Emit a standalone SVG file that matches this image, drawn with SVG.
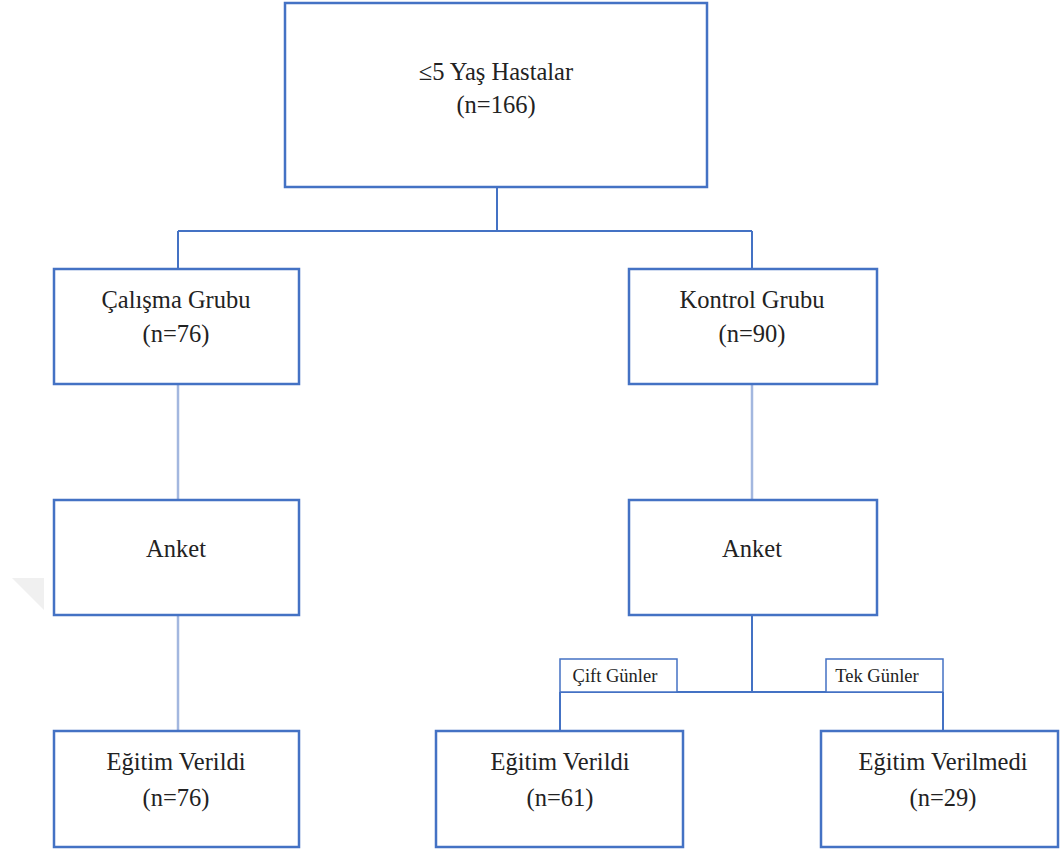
<svg xmlns="http://www.w3.org/2000/svg" width="1061" height="849" viewBox="0 0 1061 849">
<style>
.box{fill:#fff;stroke:#4472C4;stroke-width:2.5}
.lbl{fill:#fff;stroke:#4472C4;stroke-width:1.5}
.c{fill:none;stroke:#4472C4;stroke-width:2}
.cl{fill:none;stroke:#A3B7DF;stroke-width:2.5}
text{font-family:'Liberation Serif','Times New Roman',serif;font-size:24.5px;fill:#222;text-anchor:middle}
.s{font-size:18.5px}
</style>
<rect width="1061" height="849" fill="#fff"/>
<polygon points="12,578 44,578 44,610" fill="#f0f0f0"/>
<g id="connectors">
<path class="c" d="M497,187 V231 M178,231 H752 M178,231 V268 M752,231 V268"/>
<path class="cl" d="M178,384 V500 M752,384 V500 M178,615 V730"/>
<path class="c" d="M752,615 V692 M560,692 H943 M560,692 V730 M943,692 V730"/>
</g>
<g id="root"><rect class="box" x="285" y="3" width="422" height="184"/><text x="496" y="80">≤5 Yaş Hastalar</text><text x="496" y="113">(n=166)</text></g>
<g id="calisma"><rect class="box" x="54" y="269" width="245" height="115"/><text x="176" y="308">Çalışma Grubu</text><text x="176" y="342">(n=76)</text></g>
<g id="kontrol"><rect class="box" x="629" y="269" width="248" height="115"/><text x="752" y="308">Kontrol Grubu</text><text x="752" y="342">(n=90)</text></g>
<g id="anket1"><rect class="box" x="54" y="500" width="245" height="115"/><text x="176" y="557">Anket</text></g>
<g id="anket2"><rect class="box" x="629" y="500" width="248" height="115"/><text x="752" y="557">Anket</text></g>
<g id="cift"><rect class="lbl" x="560" y="659" width="117" height="33"/><text class="s" x="615" y="682">Çift Günler</text></g>
<g id="tek"><rect class="lbl" x="826" y="659" width="117" height="33"/><text class="s" x="877" y="682">Tek Günler</text></g>
<g id="egitim1"><rect class="box" x="54" y="731" width="245" height="116"/><text x="176" y="770">Eğitim Verildi</text><text x="176" y="806">(n=76)</text></g>
<g id="egitim2"><rect class="box" x="436" y="731" width="247" height="116"/><text x="560" y="770">Eğitim Verildi</text><text x="560" y="806">(n=61)</text></g>
<g id="egitim3"><rect class="box" x="821" y="731" width="237" height="116"/><text x="943" y="770">Eğitim Verilmedi</text><text x="943" y="806">(n=29)</text></g>
</svg>
